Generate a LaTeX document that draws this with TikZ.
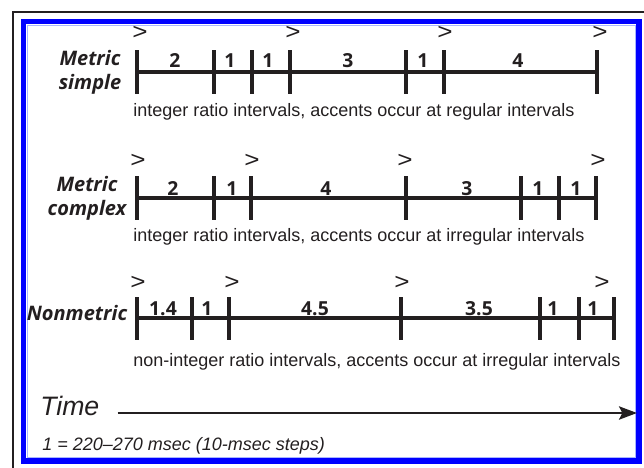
\documentclass[tikz,border=0pt]{standalone}
\usepackage{fontspec}
\setmainfont{Liberation Sans}
\newfontfamily\labfont{Open Sans}
\usetikzlibrary{arrows.meta}
\definecolor{Ink}{HTML}{231F20}
\definecolor{Frame}{HTML}{0000FF}
\definecolor{FrameIn}{HTML}{A9B6FF}
\tikzset{
  axisline/.style={Ink,line width=2.5pt},
  beat/.style={Ink,line width=2.5pt},
  num/.style={font=\labfont\bfseries\fontsize{14.5}{16}\selectfont,Ink,anchor=base,inner sep=0pt},
  accent/.style={font=\fontsize{17}{19}\selectfont,Ink,inner sep=0pt,xscale=1.15},
  rowname/.style={font=\labfont\bfseries\itshape\fontsize{15}{18}\selectfont,Ink,align=center,inner sep=0pt},
  caption/.style={font=\fontsize{13.5}{16}\selectfont,Ink,anchor=base west,inner sep=0pt},
}
\begin{document}
\begin{tikzpicture}[x=0.75pt,y=-0.75pt]
  \useasboundingbox (0,0) rectangle (644,468);
  % frames
  \draw[Ink,line width=1.5pt] (13,468) -- (13,12) -- (644,12);
  \draw[Frame,line width=4.1pt] (23.3,21.5) rectangle (639,461);
  \draw[FrameIn,line width=0.6pt] (27,25) rectangle (635.5,457.5);

  % metric simple
  \def\ry{72}
  \draw[axisline] (137,\ry) -- (597,\ry);
  \foreach \x in {137,214,252,290,406,444,597}
    \draw[beat] (\x,\ry-22) -- (\x,\ry+22);
  \foreach \x/\lab in {175/2,230/1,268/1,348/3,423/1,518/4}
    \node[num] at (\x,\ry-4.5) {\lab};
  \foreach \x in {140,293,445,600}
    \node[accent] at (\x,\ry-39) {>};
  \node[rowname] (simple) at (90,\ry) {Metric\\simple};
  \node[caption] (capsimple) at (133,116.7) {integer ratio intervals, accents occur at regular intervals};

  % metric complex
  \def\ry{198}
  \draw[axisline] (137,\ry) -- (596,\ry);
  \foreach \x in {137,214,251,406,521,559,596}
    \draw[beat] (\x,\ry-22) -- (\x,\ry+22);
  \foreach \x/\lab in {173/2,232/1,326/4,467/3,538/1,576/1}
    \node[num] at (\x,\ry-3) {\lab};
  \foreach \x in {138,252,405,598}
    \node[accent] at (\x,\ry-37) {>};
  \node[rowname] (complex) at (87,\ry) {Metric\\complex};
  \node[caption] (capcomplex) at (133,241.7) {integer ratio intervals, accents occur at irregular intervals};

  % nonmetric
  \def\ry{318}
  \draw[axisline] (137,\ry) -- (614,\ry);
  \foreach \x in {137,192,229,401,540,579,614}
    \draw[beat] (\x,\ry-21) -- (\x,\ry+22);
  \foreach \x/\lab in {163/1.4,207/1,315/4.5,479/3.5,553/1,593/1}
    \node[num] at (\x,\ry-3) {\lab};
  \foreach \x in {138,232,402,602}
    \node[accent] at (\x,\ry-35) {>};
  \node[rowname,anchor=base] (nonmetric) at (77,320) {Nonmetric};
  \node[caption] (capnon) at (133,366.7) {non-integer ratio intervals, accents occur at irregular intervals};

  % time axis
  \node[caption,font=\itshape\fontsize{20}{22}\selectfont] (time) at (40,415) {Time};
  \coordinate (tend) at (637,413);
  \draw[Ink,line width=1.5pt,-{Stealth[length=13.5pt,width=10pt,inset=2.5pt]}]
    (time.base east) ++(18,-2) -- (tend);
  \node[caption,font=\itshape\fontsize{13.5}{16}\selectfont] (unit) at (42,450) {1 = 220–270 msec (10-msec steps)};
\end{tikzpicture}
\end{document}
